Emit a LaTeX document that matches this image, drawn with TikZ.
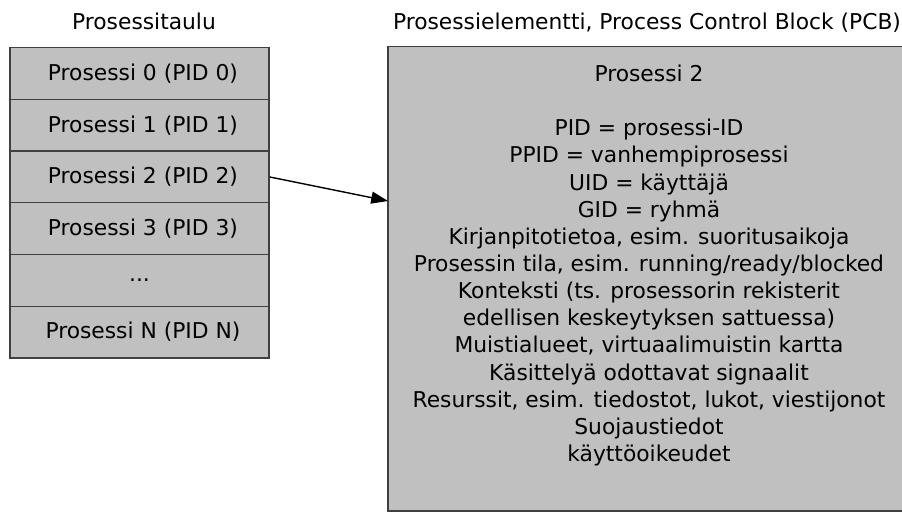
\documentclass[tikz,border=0pt]{standalone}
\usepackage{fontspec}
\setmainfont{DejaVu Sans}
\usetikzlibrary{arrows.meta}
\definecolor{boxgrey}{HTML}{C0C0C0}
\definecolor{edgegrey}{HTML}{404040}
\begin{document}
\begin{tikzpicture}[x=0.025cm,y=-0.025cm,
    every node/.style={font=\fontsize{15.5}{19.3}\selectfont},
    row/.style={draw=edgegrey,fill=boxgrey,line width=0.03cm,inner sep=0pt,
      minimum width=6.475cm,minimum height=1.2925cm}]
      \useasboundingbox (0,0) rectangle (902,513);
      \draw
        (144,29) node[anchor=base] (taulu){Prosessitaulu}
        (647,29) node[anchor=base] (pcbtitle){Prosessielementti, Process Control Block (PCB)};
      \draw
        (139.5,73.55) node[row] (p0){\ Prosessi 0 (PID 0)}
        (139.5,125.25) node[row] (p1){\ Prosessi 1 (PID 1)}
        (139.5,176.95) node[row] (p2){\ Prosessi 2 (PID 2)}
        (139.5,228.65) node[row] (p3){\ Prosessi 3 (PID 3)}
        (139.5,280.35) node[row] (p4){...}
        (139.5,332.05) node[row] (pn){\ Prosessi N (PID N)};
      \draw
        (649,278.75) node[row,minimum width=13.05cm,minimum height=11.6125cm] (pcb){}
        (649,461.5) node[anchor=base,align=center,inner sep=0pt] (pcbtext){Prosessi 2\\[19.3pt]
          PID = prosessi-ID\\
          PPID = vanhempiprosessi\\
          UID = käyttäjä\\
          GID = ryhmä\\
          Kirjanpitotietoa, esim. suoritusaikoja\\
          Prosessin tila, esim. running/ready/blocked\\
          Konteksti (ts. prosessorin rekisterit\\
          edellisen keskeytyksen sattuessa)\\
          Muistialueet, virtuaalimuistin kartta\\
          Käsittelyä odottavat signaalit\\
          Resurssit, esim. tiedostot, lukot, viestijonot\\
          Suojaustiedot\\
          käyttöoikeudet};
      \coordinate (tip) at (388,201);
      \begin{scope}[-{Triangle[length=0.42cm,width=0.3cm]}]
        \draw[line width=0.035cm] (p2.east) to (tip);
      \end{scope}
    \end{tikzpicture}
\end{document}
